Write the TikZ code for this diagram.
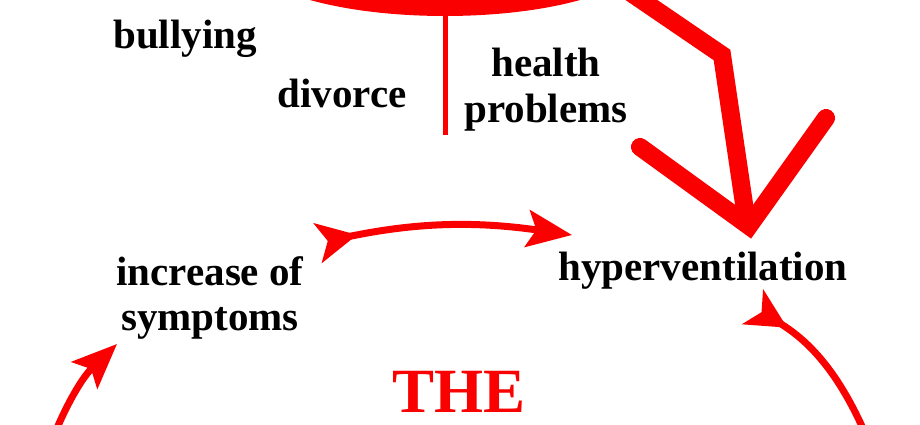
\documentclass[tikz,border=0pt]{standalone}
\usepackage{fontspec}
\setmainfont{Liberation Serif}
\usetikzlibrary{arrows.meta}
\definecolor{cred}{RGB}{250,0,0}
\begin{document}
\begin{tikzpicture}[x=1pt,y=1pt,
  lbl/.style={inner sep=0pt,anchor=base,align=center,font=\fontsize{41}{45}\selectfont\bfseries},
  big/.style={inner sep=0pt,anchor=base,text=cred,font=\fontsize{63}{70}\selectfont\bfseries},
  cyc/.style={draw=cred,line width=7,{Stealth[reversed,length=40,width=40,inset=10]}-{Stealth[length=45,width=37,inset=9]}},
  cycend/.style={draw=cred,line width=7,-{Stealth[length=45,width=37,inset=9]}},
  cycstart/.style={draw=cred,line width=7,{Stealth[reversed,length=40,width=40,inset=10]}-},
  fat/.style={draw=cred,line width=18}
]
\useasboundingbox (0,0) rectangle (920,-425);
\begin{scope}
\clip (0,0) rectangle (920,-425);
% top blob
\fill[cred] (445,45) ellipse [x radius=200, y radius=61];
% zigzag shaft
\coordinate (z0) at (615,18);
\coordinate (z1) at (722,-55);
\coordinate (z2) at (747,-224);
\draw[fat,line join=miter] (z0) -- (z1) -- (z2);
% V head
\coordinate (v1) at (640,-147);
\coordinate (vt) at (749,-226);
\coordinate (v2) at (826,-118);
\draw[fat,line cap=round,line join=miter] (v1) -- (vt) -- (v2);
% stem
\coordinate (s0) at (445,-12);
\coordinate (s1) at (445,-135);
\draw[draw=cred,line width=5] (s0) -- (s1);

% texts
\node[lbl] (bully) at (185,-49) {bullying};
\node[lbl] (divorce) at (342,-108) {divorce};
\node[lbl] (health) at (546,-122) {health\\problems};
\node[lbl] (incr) at (210,-330) {increase of\\symptoms};
\node[lbl] (hyper) at (703,-280) {hyperventilation};
\node[big] (the) at (459,-412) {THE};

% cycle arrows
\coordinate (a1) at (318,-243);
\coordinate (a2) at (572,-235);
\draw[cyc] (a1) to[bend left=10] (a2);
\coordinate (b1) at (753,-307);
\coordinate (b2) at (868,-440);
\draw[cycstart] (b1) to[bend left=18] (b2);
\coordinate (c1) at (52,-440);
\coordinate (c2) at (117,-344);
\draw[cycend] (c1) to[bend left=12] (c2);
\end{scope}
\end{tikzpicture}
\end{document}
